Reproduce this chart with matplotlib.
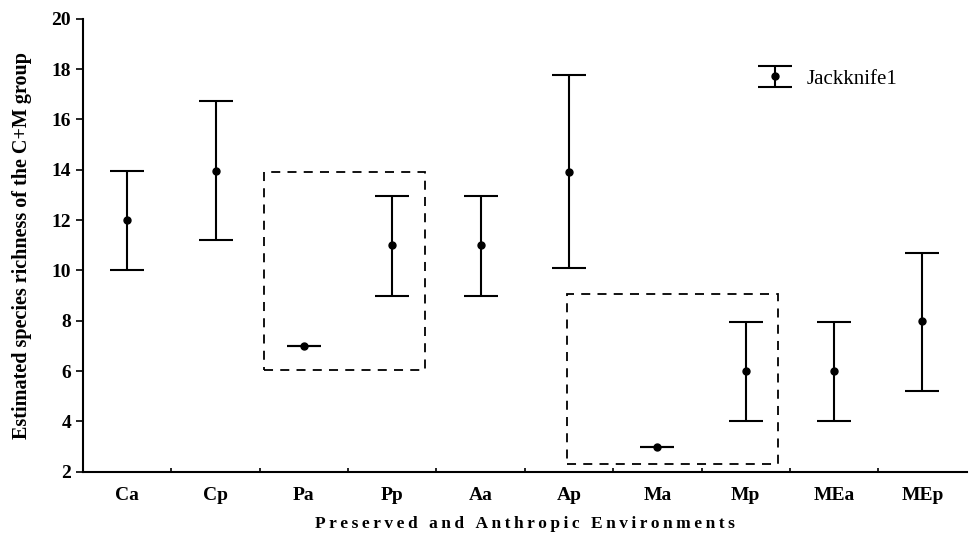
import numpy as np
import matplotlib
matplotlib.use('Agg')
import matplotlib.pyplot as plt
from matplotlib.patches import Rectangle

# estimated richness (Jackknife1) with interval limits
sites = ['Ca', 'Cp', 'Pa', 'Pp', 'Aa', 'Ap', 'Ma', 'Mp', 'MEa', 'MEp']
mean = [12.0, 13.95, 7.0, 11.0, 11.0, 13.9, 3.0, 6.0, 6.0, 8.0]
lower = [10.0, 11.2, 7.0, 9.0, 9.0, 10.1, 3.0, 4.0, 4.0, 5.2]
upper = [13.95, 16.75, 7.0, 12.95, 12.95, 17.75, 3.0, 7.95, 7.95, 10.7]

# dashed groups (x from, x to, y from, y to)
boxes = [(2.05, 3.87, 6.05, 13.9), (5.48, 7.86, 2.32, 9.07)]

plt.rcParams['font.family'] = ['Liberation Serif', 'DejaVu Serif']

fig = plt.figure(figsize=(9.71, 5.36), dpi=100)
ax = fig.add_axes([0.0855, 0.12, 0.91, 0.845])

x = np.arange(len(sites)) + 0.5
m = np.array(mean)
err = [m - np.array(lower), np.array(upper) - m]
ax.errorbar(x, m, yerr=err, fmt='o', color='black', ms=5, elinewidth=1.5,
            capsize=12.5, capthick=1.5, label='Jackknife1')

for x0, x1, y0, y1 in boxes:
    ax.add_patch(Rectangle((x0, y0), x1 - x0, y1 - y0, fill=False,
                           ls=(0, (5, 4)), lw=1.3, ec='black'))

ax.set_xlim(0, 10)
ax.set_ylim(2, 20)
ax.set_yticks(np.arange(2, 21, 2))
ax.set_xticks(np.arange(1, 10), minor=False)
ax.set_xticklabels([])
ax.set_xticks(x, minor=True)
ax.set_xticklabels(sites, minor=True)
ax.tick_params(axis='x', which='major', direction='in', length=3, width=1.2)
ax.tick_params(axis='x', which='minor', length=0, pad=11, labelsize=14)
ax.tick_params(axis='y', direction='out', length=5, width=1.2, labelsize=14)
for lab in ax.get_xticklabels(minor=True) + ax.get_yticklabels():
    lab.set_fontweight('bold')

for s in ['top', 'right']:
    ax.spines[s].set_visible(False)
for s in ['left', 'bottom']:
    ax.spines[s].set_linewidth(1.5)

xlab = 'Preserved and Anthropic Environments'
ax.set_xlabel('\u2009'.join(xlab), fontsize=12.5, fontweight='bold', labelpad=9)
ax.set_ylabel('Estimated species richness of the C+M group', fontsize=14.5,
              fontweight='bold', labelpad=14)

ax.legend(loc='center left', bbox_to_anchor=(0.76, 0.867), frameon=False,
          fontsize=15, handlelength=2.0, handletextpad=0.5,
          borderpad=0, borderaxespad=0)

fig.savefig('out.png', dpi=100)
